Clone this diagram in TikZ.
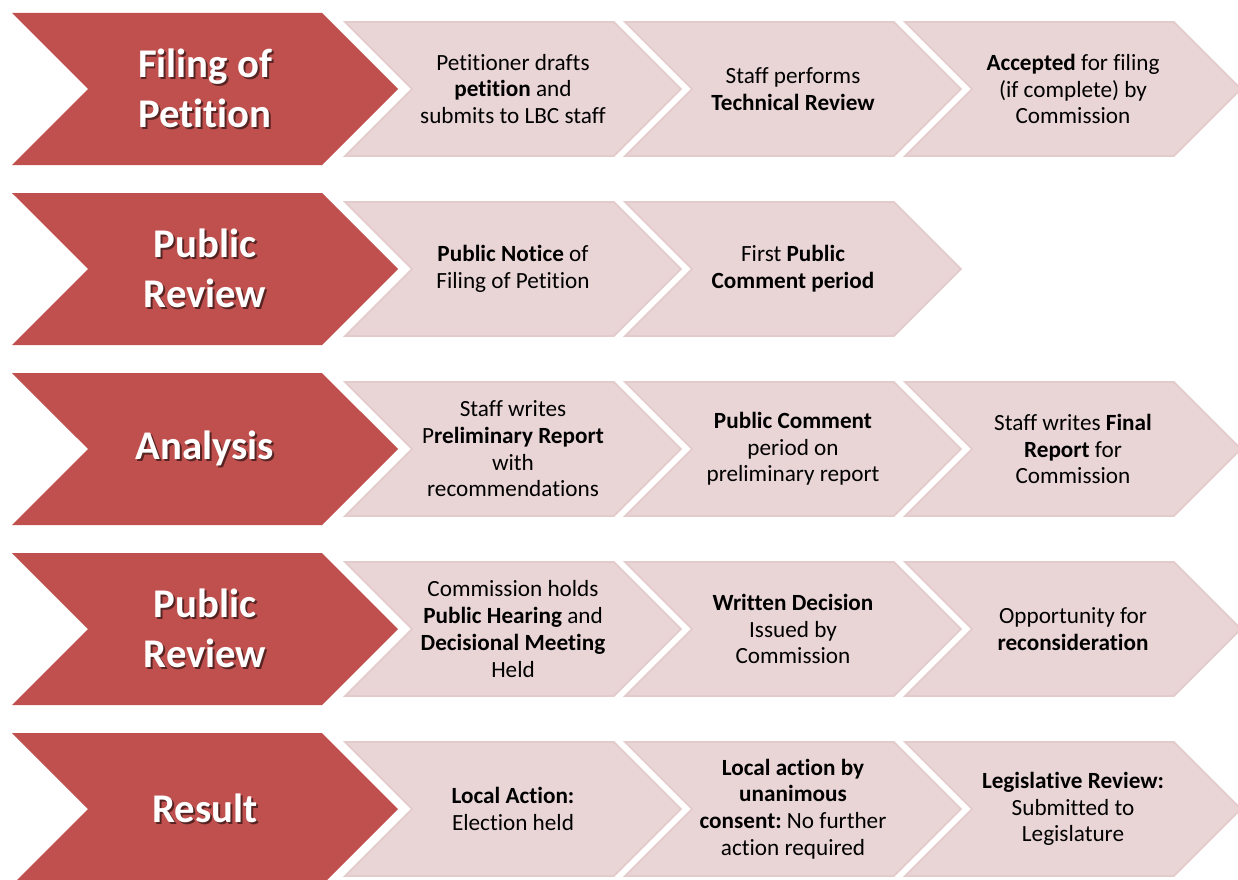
\documentclass[tikz,border=0pt]{standalone}
\usepackage{fontspec}
\setmainfont[Ligatures={NoCommon}]{Carlito}
\usetikzlibrary{positioning, calc, shapes.symbols}

\definecolor{stagered}{HTML}{C0504D}
\definecolor{steppink}{HTML}{EAD5D6}
\definecolor{stepedge}{HTML}{E3CACB}

% white title with a soft dark copy behind it
\newcommand{\sh}[1]{\makebox[0pt][l]{\hspace{1.3pt}\raisebox{-1.3pt}{\color{stagered!45!black}#1}}#1}

\tikzset{
    stage/.style={signal, signal to=east, signal from=west, signal pointer angle=90,
        fill=stagered, minimum width=9.65cm, minimum height=3.8cm, inner sep=0pt,
        text=white, align=center, font=\fontsize{29}{35.5}\selectfont\bfseries},
    stepbox/.style={signal, signal to=east, signal from=west, signal pointer angle=90,
        fill=steppink, draw=stepedge, line width=1.2pt, minimum width=8.4cm,
        minimum height=3.35cm, inner sep=0pt, align=center,
        font=\fontsize{16.5}{19}\selectfont},
}

\begin{document}
\frenchspacing
\begin{tikzpicture}
    \useasboundingbox (0, 0) rectangle (30.95, -22);

    % stages
    \node[stage] (filing) at (5.125, -2.225) {\sh{Filing of}\\\sh{Petition}};
    \node[stage] (review_one) at ($(filing)+(0, -4.5)$) {\sh{Public}\\\sh{Review}};
    \node[stage] (analysis) at ($(filing)+(0, -9)$) {\sh{Analysis}};
    \node[stage] (review_two) at ($(filing)+(0, -13.5)$) {\sh{Public}\\\sh{Review}};
    \node[stage] (result) at ($(filing)+(0, -18)$) {\sh{Result}};

    % filing of petition
    \node[stepbox] (drafts) at ($(filing)+(7.7, 0)$) {Petitioner drafts\\\textbf{petition} and\\submits to LBC staff};
    \node[stepbox] (technical) at ($(filing)+(14.7, 0)$) {Staff performs\\\textbf{Technical Review}};
    \node[stepbox] (accepted) at ($(filing)+(21.7, 0)$) {\textbf{Accepted} for filing\\(if complete) by\\Commission};

    % first public review
    \node[stepbox] (notice) at ($(review_one)+(7.7, 0)$) {\textbf{Public Notice} of\\Filing of Petition};
    \node[stepbox] (first_comment) at ($(review_one)+(14.7, 0)$) {First \textbf{Public}\\\textbf{Comment period}};

    % analysis
    \node[stepbox] (preliminary) at ($(analysis)+(7.7, 0)$) {Staff writes\\P\textbf{reliminary Report}\\with\\recommendations};
    \node[stepbox] (second_comment) at ($(analysis)+(14.7, 0)$) {\textbf{Public Comment}\\period on\\preliminary report};
    \node[stepbox] (final) at ($(analysis)+(21.7, 0)$) {Staff writes \textbf{Final}\\\textbf{Report} for\\Commission};

    % second public review
    \node[stepbox] (hearing) at ($(review_two)+(7.7, 0)$) {Commission holds\\\textbf{Public Hearing} and\\\textbf{Decisional Meeting}\\Held};
    \node[stepbox] (decision) at ($(review_two)+(14.7, 0)$) {\textbf{Written Decision}\\Issued by\\Commission};
    \node[stepbox] (reconsider) at ($(review_two)+(21.7, 0)$) {Opportunity for\\\textbf{reconsideration}};

    % result
    \node[stepbox] (local) at ($(result)+(7.7, 0)$) {\textbf{Local Action:}\\Election held};
    \node[stepbox] (consent) at ($(result)+(14.7, 0)$) {\textbf{Local action by}\\\textbf{unanimous}\\\textbf{consent:} No further\\action required};
    \node[stepbox] (legislative) at ($(result)+(21.7, 0)$) {\textbf{Legislative Review:}\\Submitted to\\Legislature};
\end{tikzpicture}
\end{document}
